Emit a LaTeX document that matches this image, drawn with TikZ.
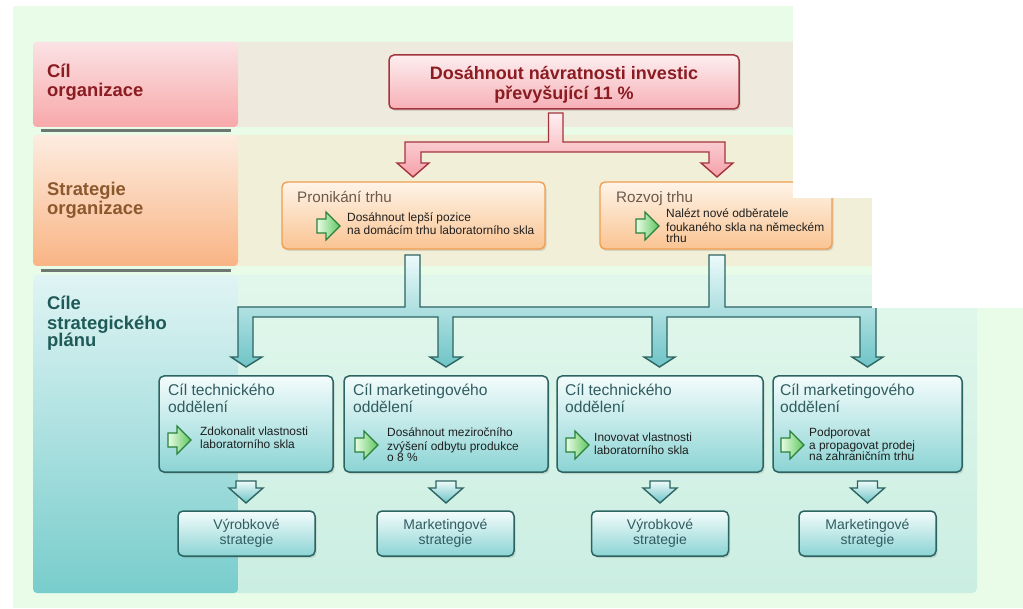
\documentclass[tikz,border=0pt]{standalone}
\usepackage{fontspec}
\setmainfont{Liberation Sans}
\usetikzlibrary{shadows}
\definecolor{bggreen}{RGB}{232,252,232}
\definecolor{bandA}{RGB}{238,235,222}
\definecolor{bandB}{RGB}{242,239,216}
\definecolor{bandCt}{RGB}{226,247,236}
\definecolor{bandCb}{RGB}{203,238,226}
\definecolor{redTop}{RGB}{251,226,228}
\definecolor{redBot}{RGB}{248,168,170}
\definecolor{orTop}{RGB}{253,236,224}
\definecolor{orBot}{RGB}{249,180,132}
\definecolor{tlTop}{RGB}{224,244,244}
\definecolor{tlBot}{RGB}{120,205,204}
\definecolor{sepgray}{RGB}{110,120,115}
\definecolor{darkred}{RGB}{138,28,34}
\definecolor{brownlbl}{RGB}{140,88,46}
\definecolor{teallbl}{RGB}{30,90,88}
\definecolor{redline}{RGB}{163,52,62}
\definecolor{goalTop}{RGB}{253,238,240}
\definecolor{goalBot}{RGB}{246,176,182}
\definecolor{arTop}{RGB}{255,240,242}
\definecolor{arBot}{RGB}{244,160,168}
\definecolor{orline}{RGB}{240,158,80}
\definecolor{obTop}{RGB}{254,244,232}
\definecolor{obBot}{RGB}{250,196,146}
\definecolor{obtitlec}{RGB}{110,90,76}
\definecolor{tealline}{RGB}{44,100,98}
\definecolor{tbTop}{RGB}{244,252,252}
\definecolor{tbBot}{RGB}{140,212,212}
\definecolor{taTop}{RGB}{236,250,250}
\definecolor{taBot}{RGB}{110,196,198}
\definecolor{tealtext}{RGB}{48,92,96}
\definecolor{gline}{RGB}{40,130,60}
\definecolor{gTop}{RGB}{232,252,228}
\definecolor{gBot}{RGB}{96,198,96}
\definecolor{txt}{RGB}{30,30,30}
\tikzset{
  shad/.style={drop shadow={shadow xshift=1.5pt, shadow yshift=-2pt, opacity=0.25}},
  lblbox/.style={rounded corners=4pt},
  sepline/.style={line width=3pt, sepgray},
  lbltext/.style={inner sep=0pt, anchor=south west, align=left, font=\bfseries\fontsize{18.4}{17.5}\selectfont},
  goalbox/.style={draw=redline, line width=1.5pt, rounded corners=5pt, top color=goalTop, bottom color=goalBot, minimum width=350pt, minimum height=54pt, inner sep=0pt, shad},
  goaltext/.style={inner sep=0pt, anchor=south, align=center, text=darkred, font=\bfseries\fontsize{18}{19}\selectfont},
  orbox/.style={draw=orline, line width=1.4pt, rounded corners=5pt, top color=obTop, bottom color=obBot, minimum height=67pt, inner sep=0pt, shad},
  obtitle/.style={inner sep=0pt, anchor=base west, text=obtitlec, font=\fontsize{15.2}{16}\selectfont},
  smalltxt/.style={inner sep=0pt, anchor=south west, align=left, text=txt, font=\fontsize{11.9}{11.7}\selectfont},
  deptbox/.style={draw=tealline, line width=1.5pt, rounded corners=5pt, top color=tbTop, bottom color=tbBot, minimum height=96pt, inner sep=0pt, shad},
  depttitle/.style={inner sep=0pt, anchor=south west, align=left, text=tealtext, font=\fontsize{15.6}{15}\selectfont},
  stratbox/.style={draw=tealline, line width=1.5pt, rounded corners=5pt, top color=tbTop, bottom color=tbBot, minimum width=137pt, minimum height=45pt, inner sep=0pt, shad},
  strattxt/.style={inner sep=0pt, anchor=south, align=center, text=tealtext, font=\fontsize{14}{13.5}\selectfont},
  redarrow/.style={draw=redline, line width=1.4pt, top color=arTop, bottom color=arBot, line join=miter},
  tealarrow/.style={draw=tealline, line width=1.4pt, top color=taTop, bottom color=taBot, line join=miter},
  gicon/.pic={\draw[gline, line width=1.1pt, left color=gTop, right color=gBot, line join=miter]
     (0,-7) -- (9,-7) -- (9,-14) -- (23,0) -- (9,14) -- (9,7) -- (0,7) -- cycle;},
}
\begin{document}
\begin{tikzpicture}[x=1pt,y=-1pt]
\useasboundingbox (0,0) rectangle (1023,609);
\fill[white] (0,0) rectangle (1023,609);
\fill[bggreen] (13,6) rectangle (1023,608);
% bands
\fill[bandA, rounded corners=4pt] (33,42) rectangle (977,127);
\fill[bandB, rounded corners=4pt] (33,135) rectangle (977,266);
\shade[top color=bandCt, bottom color=bandCb, rounded corners=5pt] (33,275) rectangle (977,593);
\shade[lblbox, top color=redTop, bottom color=redBot] (33,42) rectangle (238,127);
\shade[lblbox, top color=orTop, bottom color=orBot] (33,135) rectangle (238,266);
\shade[lblbox, top color=tlTop, bottom color=tlBot] (33,275) rectangle (238,593);
\draw[sepline] (41,131) -- (231,131);
\draw[sepline] (41,270.5) -- (231,270.5);
\node[lbltext, text=darkred] (l1) at (47,102.3) {\strut Cíl\\organizace\strut};
\node[lbltext, text=brownlbl] (l2) at (47,220.3) {\strut Strategie\\organizace\strut};
\node[lbltext, text=teallbl] (l3) at (47,352.3) {\strut Cíle\\strategického\\plánu\strut};
% goal
\node[goalbox] (goal) at (564,82) {};
\node[goaltext] (goalt) at (564,105.7) {\strut Dosáhnout návratnosti investic\\převyšující 11 \%\strut};
% red branching arrow
\draw[redarrow] (548.5,113) -- (548.5,142) -- (405,142) -- (405,163) -- (397,163) -- (413,177) -- (429,163) -- (421,163)
  -- (421,152) -- (709,152) -- (709,163) -- (701,163) -- (717,177) -- (733,163) -- (725,163) -- (725,142)
  -- (563,142) -- (563,113) -- cycle;
% strategy boxes
\node[orbox, minimum width=263pt] (pen) at (413.5,215.5) {};
\node[orbox, minimum width=232pt] (roz) at (716,215.5) {};
\node[obtitle] (pent) at (297,203) {Pronikání trhu};
\node[obtitle] (rozt) at (616,203) {Rozvoj trhu};
\pic (peni) at (317,226) {gicon};
\pic (rozi) at (636,226) {gicon};
\node[smalltxt] (pens) at (347,238.5) {\strut Dosáhnout lepší pozice\\na domácím trhu laboratorního skla\strut};
\node[smalltxt] (rozs) at (666,246.5) {\strut Nalézt nové odběratele\\foukaného skla na německém\\trhu\strut};
% teal branching arrow
\draw[tealarrow] (405,255) -- (405,307) -- (238,307) -- (238,357) -- (231,357) -- (246,367) -- (262,357) -- (253,357)
  -- (253,317) -- (438,317) -- (438,357) -- (430,357) -- (446,367) -- (462,357) -- (453,357)
  -- (453,317) -- (652,317) -- (652,357) -- (644,357) -- (659.5,367) -- (675,357) -- (667,357)
  -- (667,317) -- (860,317) -- (860,357) -- (852,357) -- (867.5,367) -- (883,357) -- (876,357)
  -- (876,307) -- (725,307) -- (725,255) -- (709,255) -- (709,307) -- (420,307) -- (420,255) -- cycle;
% department boxes
\node[deptbox, minimum width=174pt] (d1) at (246,424) {};
\node[deptbox, minimum width=204pt] (d2) at (446,424) {};
\node[deptbox, minimum width=206pt] (d3) at (660,424) {};
\node[deptbox, minimum width=189pt] (d4) at (867.5,424) {};
\node[depttitle] (d1t) at (168,417.5) {\strut Cíl technického\\oddělení\strut};
\node[depttitle] (d2t) at (353,417.5) {\strut Cíl marketingového\\oddělení\strut};
\node[depttitle] (d3t) at (565,417.5) {\strut Cíl technického\\oddělení\strut};
\node[depttitle] (d4t) at (780,417.5) {\strut Cíl marketingového\\oddělení\strut};
\pic (d1i) at (168,440) {gicon};
\pic (d2i) at (355,445) {gicon};
\pic (d3i) at (566,445) {gicon};
\pic (d4i) at (781,445) {gicon};
\node[smalltxt] (d1s) at (200,452.6) {\strut Zdokonalit vlastnosti\\laboratorního skla\strut};
\node[smalltxt] (d2s) at (387,465.6) {\strut Dosáhnout meziročního\\zvýšení odbytu produkce\\o 8 \%\strut};
\node[smalltxt] (d3s) at (594,458.6) {\strut Inovovat vlastnosti\\laboratorního skla\strut};
\node[smalltxt] (d4s) at (809,464.6) {\strut Podporovat\\a propagovat prodej\\na zahraničním trhu\strut};
% small arrows
\foreach \c/\n in {246/a1,446/a2,660/a3,867.5/a4}{
  \draw[tealarrow] (\c-10,481) -- (\c+10,481) -- (\c+10,488) -- (\c+17,488) -- (\c,503) -- (\c-17,488) -- (\c-10,488) -- cycle;
}
% strategy boxes
\node[stratbox] (s1) at (246.5,533.5) {};
\node[stratbox] (s2) at (445.5,533.5) {};
\node[stratbox] (s3) at (660,533.5) {};
\node[stratbox] (s4) at (867.5,533.5) {};
\node[strattxt] (s1t) at (246.5,549) {\strut Výrobkové\\strategie\strut};
\node[strattxt] (s2t) at (445.5,549) {\strut Marketingové\\strategie\strut};
\node[strattxt] (s3t) at (660,549) {\strut Výrobkové\\strategie\strut};
\node[strattxt] (s4t) at (867.5,549) {\strut Marketingové\\strategie\strut};
% white overlays
\fill[white] (793,0) rectangle (1023,198);
\fill[white] (872,0) rectangle (1023,308);
\end{tikzpicture}
\end{document}
